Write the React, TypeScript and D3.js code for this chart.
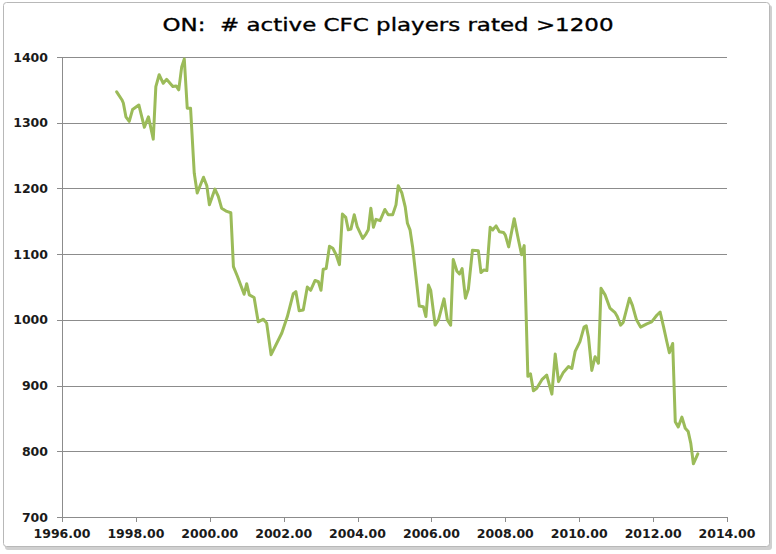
import React from "react";
import * as d3 from "d3";

const TITLE = "ON:  # active CFC players rated >1200";

const years: number[] = [
  1997.48, 1997.62, 1997.66, 1997.73, 1997.82, 1997.91, 1998.08, 1998.23, 1998.34, 1998.47,
  1998.54, 1998.63, 1998.74, 1998.83, 1999.0, 1999.09, 1999.16, 1999.24, 1999.31, 1999.39,
  1999.48, 1999.58, 1999.66, 1999.83, 1999.92, 1999.99, 2000.14, 2000.23, 2000.32, 2000.46,
  2000.57, 2000.64, 2000.75, 2000.93, 2001.0, 2001.07, 2001.2, 2001.31, 2001.45, 2001.54,
  2001.66, 2001.95, 2002.1, 2002.26, 2002.33, 2002.42, 2002.53, 2002.64, 2002.73, 2002.85,
  2002.94, 2003.01, 2003.07, 2003.15, 2003.24, 2003.33, 2003.42, 2003.51, 2003.59, 2003.68,
  2003.75, 2003.82, 2003.91, 2003.99, 2004.14, 2004.23, 2004.29, 2004.36, 2004.43, 2004.5,
  2004.61, 2004.74, 2004.83, 2004.95, 2005.04, 2005.1, 2005.2, 2005.29, 2005.35, 2005.42,
  2005.49, 2005.58, 2005.67, 2005.78, 2005.85, 2005.92, 2005.98, 2006.1, 2006.19, 2006.34,
  2006.43, 2006.52, 2006.59, 2006.69, 2006.76, 2006.83, 2006.92, 2007.0, 2007.11, 2007.27,
  2007.34, 2007.42, 2007.5, 2007.59, 2007.66, 2007.75, 2007.84, 2007.95, 2008.0, 2008.09,
  2008.24, 2008.35, 2008.44, 2008.51, 2008.61, 2008.68, 2008.76, 2008.85, 2008.99, 2009.12,
  2009.26, 2009.35, 2009.44, 2009.57, 2009.71, 2009.8, 2009.89, 2010.02, 2010.13, 2010.19,
  2010.25, 2010.34, 2010.43, 2010.52, 2010.59, 2010.7, 2010.83, 2010.97, 2011.03, 2011.12,
  2011.19, 2011.36, 2011.44, 2011.55, 2011.66, 2011.83, 2011.96, 2012.1, 2012.19, 2012.28,
  2012.37, 2012.44, 2012.53, 2012.6, 2012.68, 2012.78, 2012.87, 2012.95, 2013.02, 2013.09,
  2013.21,
];

const players: number[] = [
  1347, 1335, 1330, 1309, 1302, 1320, 1327, 1293, 1309, 1275,
  1355, 1373, 1360, 1366, 1355, 1356, 1350, 1385, 1397, 1322,
  1322, 1223, 1193, 1217, 1204, 1175, 1199, 1188, 1170, 1165,
  1163, 1081, 1066, 1039, 1055, 1038, 1034, 997, 1001, 995,
  947, 980, 1005, 1040, 1043, 1014, 1015, 1050, 1045, 1060,
  1058, 1045, 1077, 1078, 1112, 1109, 1099, 1084, 1161, 1156,
  1137, 1138, 1160, 1142, 1124, 1131, 1137, 1170, 1141, 1153,
  1151, 1168, 1160, 1160, 1175, 1204, 1193, 1172, 1147, 1137,
  1111, 1066, 1021, 1020, 1005, 1053, 1045, 992, 1000, 1032,
  1000, 992, 1092, 1074, 1070, 1078, 1033, 1047, 1106, 1105,
  1072, 1076, 1075, 1141, 1137, 1143, 1134, 1133, 1129, 1111,
  1154, 1123, 1099, 1113, 914, 918, 892, 896, 909, 916,
  887, 948, 906, 920, 929, 926, 952, 967, 989, 991,
  974, 923, 944, 934, 1048, 1038, 1018, 1011, 1005, 992,
  996, 1033, 1022, 1000, 989, 994, 997, 1007, 1012, 990,
  967, 950, 964, 845, 837, 852, 835, 830, 812, 781,
  796,
];

const xTicks: number[] = [1996, 1998, 2000, 2002, 2004, 2006, 2008, 2010, 2012, 2014];
const yTicks: number[] = [700, 800, 900, 1000, 1100, 1200, 1300, 1400];

const W = 776;
const H = 554;
const plot = { left: 62, right: 727, top: 57, bottom: 517 };

export default function App() {
  const x = d3.scaleLinear().domain([1996, 2014]).range([plot.left, plot.right]);
  const y = d3.scaleLinear().domain([700, 1400]).range([plot.bottom, plot.top]);
  const pts: [number, number][] = years.map((yr, i) => [yr, players[i]]);
  const line = d3
    .line<[number, number]>()
    .x((d) => x(d[0]))
    .y((d) => y(d[1]));

  const labelFont = "'DejaVu Sans', sans-serif";

  return (
    <div style={{ position: "absolute", left: 0, top: 0 }}>
      <svg width={W} height={H} style={{ display: "block", background: "#fff" }}>
        <rect x={0} y={0} width={W} height={H} fill="#ffffff" />
        {/* shadow */}
        <rect x={5} y={5} width={767} height={545} rx={3} fill="#d0d0d0" />
        <rect x={3.5} y={2.5} width={766} height={544} rx={3} fill="#ffffff" stroke="#b8b8b8" strokeWidth={1} />

        <text
          x={388}
          y={31}
          textAnchor="middle"
          fontFamily={labelFont}
          fontSize={18.5}
          fill="#000"
          stroke="#000"
          strokeWidth={0.35}
          textLength={451}
          lengthAdjust="spacingAndGlyphs"
          style={{ whiteSpace: "pre" }}
        >
          {TITLE}
        </text>

        {yTicks.map((t) => (
          <g key={"y" + t}>
            {t > 700 && (
              <line
                x1={plot.left}
                x2={plot.right}
                y1={Math.round(y(t)) + 0.5}
                y2={Math.round(y(t)) + 0.5}
                stroke="#8c8c8c"
                strokeWidth={1}
              />
            )}
            <line
              x1={plot.left - 5}
              x2={plot.left}
              y1={Math.round(y(t)) + 0.5}
              y2={Math.round(y(t)) + 0.5}
              stroke="#8c8c8c"
            />
            <text
              x={48}
              y={y(t) + 4.5}
              textAnchor="end"
              fontFamily={labelFont}
              fontWeight="bold"
              fontSize={12.5}
              fill="#1a1a1a"
            >
              {t}
            </text>
          </g>
        ))}

        {xTicks.map((t) => (
          <g key={"x" + t}>
            <line
              x1={Math.round(x(t)) + 0.5}
              x2={Math.round(x(t)) + 0.5}
              y1={plot.bottom}
              y2={plot.bottom + 5}
              stroke="#8c8c8c"
            />
            <text
              x={x(t)}
              y={538}
              textAnchor="middle"
              fontFamily={labelFont}
              fontWeight="bold"
              fontSize={12.5}
              fill="#1a1a1a"
            >
              {t.toFixed(2)}
            </text>
          </g>
        ))}

        <line x1={plot.left + 0.5} x2={plot.left + 0.5} y1={plot.top} y2={plot.bottom} stroke="#8c8c8c" />
        <line x1={plot.left} x2={plot.right} y1={plot.bottom + 0.5} y2={plot.bottom + 0.5} stroke="#8c8c8c" />

        <path
          d={line(pts) || ""}
          fill="none"
          stroke="#9bbb59"
          strokeWidth={3}
          strokeLinejoin="round"
          strokeLinecap="round"
        />
      </svg>
    </div>
  );
}
